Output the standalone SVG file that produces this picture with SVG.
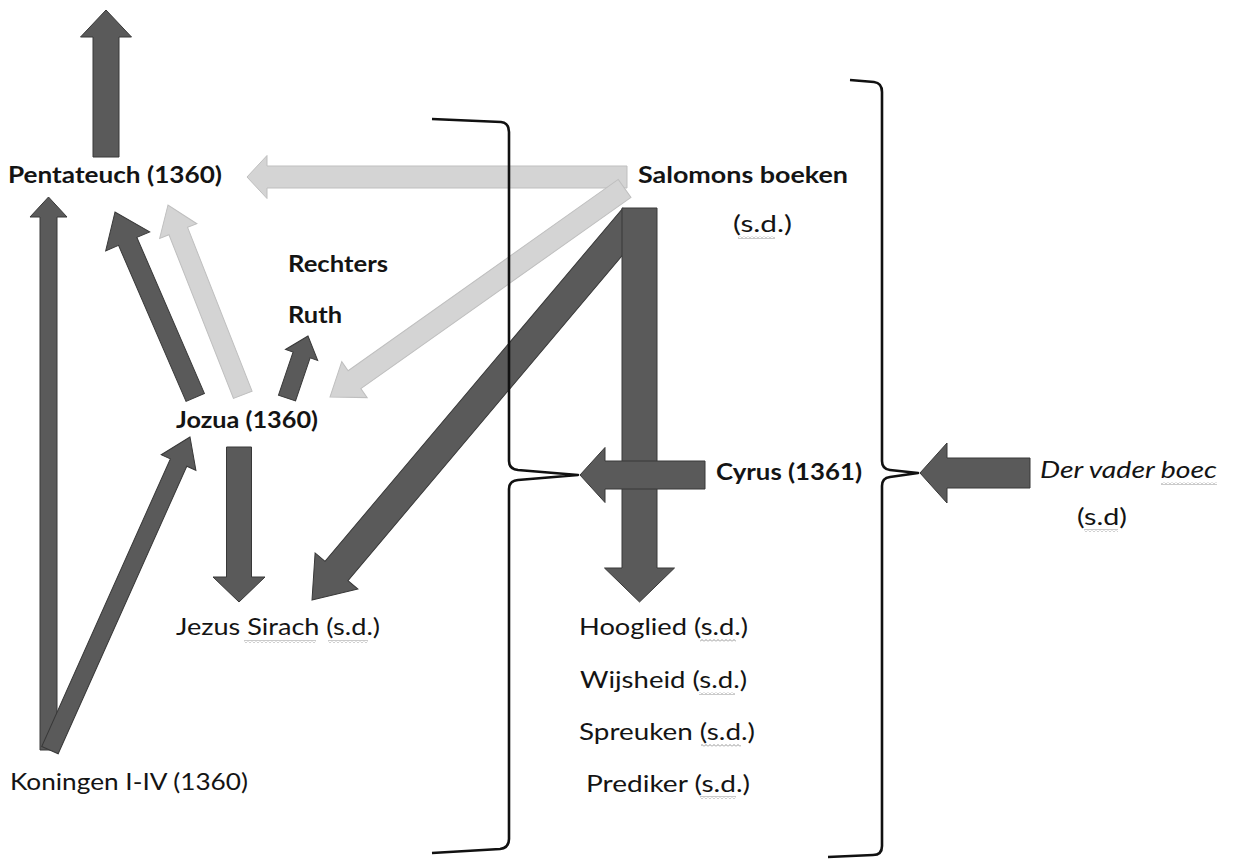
<svg xmlns="http://www.w3.org/2000/svg" width="1233" height="860" viewBox="0 0 1233 860">
<style>
.t{font-family:Lato,"Open Sans","Liberation Sans",sans-serif;font-size:23px;fill:#141414}
.b{font-weight:bold}
.i{font-style:italic}
.dark{fill:#5a5a5a;stroke:#383838;stroke-width:1}
.light{fill:#d4d4d4;stroke:#bfbfbf;stroke-width:1}
.brace{fill:none;stroke:#111;stroke-width:2.6;stroke-linejoin:round}
</style>
<defs>
<pattern id="wave" width="4" height="3" patternUnits="userSpaceOnUse"><path d="M0,2.5 L2,0.5 L4,2.5" stroke="#7a7a7a" fill="none" stroke-width="0.8"/></pattern>
</defs>
<rect width="1233" height="860" fill="#ffffff"/>
<g id="connectors">
<polygon class="light" transform="translate(247,177) rotate(180)" points="0,0 -20,-21.5 -20,-11 -380,-11 -380,11 -20,11 -20,21.5"/>
<polygon class="light" transform="translate(330,397) rotate(144.7)" points="0,0 -30,-22 -30,-11 -361,-11 -361,11 -30,11 -30,22"/>
<polygon class="light" transform="translate(168,205) rotate(-111.5)" points="0,0 -28,-20 -28,-10 -204,-10 -204,10 -28,10 -28,20"/>
<polygon class="dark" transform="translate(106,10) rotate(-90)" points="0,0 -27,-25.5 -27,-13 -147,-13 -147,13 -27,13 -27,25.5"/>
<polygon class="dark" transform="translate(48.5,197) rotate(-90)" points="0,0 -20,-18.5 -20,-8.5 -553,-8.5 -553,8.5 -20,8.5 -20,18.5"/>
<polygon class="dark" transform="translate(190,437) rotate(-65.9)" points="0,0 -28,-19 -28,-9 -343,-9 -343,9 -28,9 -28,19"/>
<polygon class="dark" transform="translate(115,212) rotate(-113.4)" points="0,0 -32,-24 -32,-10 -202,-10 -202,10 -32,10 -32,24"/>
<polygon class="dark" transform="translate(308,336) rotate(-71.3)" points="0,0 -20,-17 -20,-9 -65.5,-9 -65.5,9 -20,9 -20,17"/>
<polygon class="dark" transform="translate(239,602) rotate(90)" points="0,0 -25,-26 -25,-12.5 -155,-12.5 -155,12.5 -25,12.5 -25,26"/>
<polygon class="dark" transform="translate(312,600) rotate(130.15)" points="0,0 -38,-28 -38,-15 -500,-15 -500,15 -38,15 -38,28"/>
<polygon class="dark" transform="translate(639.5,602) rotate(90)" points="0,0 -34,-35 -34,-17.5 -394,-17.5 -394,17.5 -34,17.5 -34,35"/>
<polygon class="dark" transform="translate(580,475) rotate(180)" points="0,0 -25,-27.5 -25,-14 -125,-14 -125,14 -25,14 -25,27.5"/>
<polygon class="dark" transform="translate(920,473) rotate(180)" points="0,0 -27,-30 -27,-15 -110,-15 -110,15 -27,15 -27,30"/>
</g>
<g id="braces">
<path class="brace" d="M432,119 L501,122 Q509,123 509,132 L509,461 Q509,469 518,470 L578,475 L518,480 Q509,481 509,489 L509,839 Q509,848 500,849 L432,853"/>
<path class="brace" d="M850,80 L874,82 Q882,83 882,92 L882,461 Q882,469 890,470 L918,473 L890,477 Q882,478 882,486 L882,846 Q882,855 873,855 L828,857"/>
</g>
<g id="pentateuch"><text class="t b" x="8" y="183" textLength="214" lengthAdjust="spacingAndGlyphs">Pentateuch (1360)</text></g>
<g id="salomons">
<text class="t b" x="638" y="183" textLength="210" lengthAdjust="spacingAndGlyphs">Salomons boeken</text>
<text class="t" x="733" y="232" textLength="59" lengthAdjust="spacingAndGlyphs">(s.d.)</text>
<rect x="738" y="236" width="37" height="3" fill="url(#wave)"/>
</g>
<g id="rechters"><text class="t b" x="288" y="272" textLength="100" lengthAdjust="spacingAndGlyphs">Rechters</text></g>
<g id="ruth"><text class="t b" x="288" y="323" textLength="54" lengthAdjust="spacingAndGlyphs">Ruth</text></g>
<g id="jozua"><text class="t b" x="176" y="428" textLength="142" lengthAdjust="spacingAndGlyphs">Jozua (1360)</text></g>
<g id="jezus-sirach">
<text class="t" x="176" y="635" textLength="204" lengthAdjust="spacingAndGlyphs">Jezus Sirach (s.d.)</text>
<rect x="244" y="640" width="72" height="3" fill="url(#wave)"/>
<rect x="328" y="640" width="40" height="3" fill="url(#wave)"/>
</g>
<g id="koningen"><text class="t" x="10" y="790" textLength="238" lengthAdjust="spacingAndGlyphs">Koningen I-IV (1360)</text></g>
<g id="cyrus"><text class="t b" x="716" y="480" textLength="146" lengthAdjust="spacingAndGlyphs">Cyrus (1361)</text></g>
<g id="hooglied">
<text class="t" x="579" y="635" textLength="169" lengthAdjust="spacingAndGlyphs">Hooglied (s.d.)</text>
<rect x="700" y="639" width="36" height="3" fill="url(#wave)"/>
</g>
<g id="wijsheid">
<text class="t" x="580" y="688" textLength="167" lengthAdjust="spacingAndGlyphs">Wijsheid (s.d.)</text>
<rect x="699" y="692" width="36" height="3" fill="url(#wave)"/>
</g>
<g id="spreuken">
<text class="t" x="579" y="740" textLength="176" lengthAdjust="spacingAndGlyphs">Spreuken (s.d.)</text>
<rect x="701" y="744" width="40" height="3" fill="url(#wave)"/>
</g>
<g id="prediker">
<text class="t" x="586" y="792" textLength="164" lengthAdjust="spacingAndGlyphs">Prediker (s.d.)</text>
<rect x="700" y="796" width="36" height="3" fill="url(#wave)"/>
</g>
<g id="der-vader-boec">
<text class="t i" x="1040" y="478" textLength="177" lengthAdjust="spacingAndGlyphs">Der vader boec</text>
<rect x="1161" y="482" width="56" height="3" fill="url(#wave)"/>
<text class="t" x="1077" y="525" textLength="50" lengthAdjust="spacingAndGlyphs">(s.d)</text>
<rect x="1084" y="529" width="34" height="3" fill="url(#wave)"/>
</g>
</svg>
